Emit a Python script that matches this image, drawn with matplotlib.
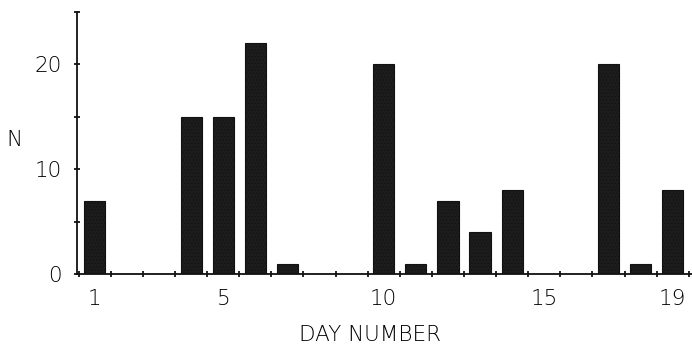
import matplotlib
matplotlib.use("Agg")
import matplotlib.pyplot as plt
import numpy as np

days = list(range(1, 20))
counts = [7, 0, 0, 15, 15, 22, 1, 0, 0, 20, 1, 7, 4, 8, 0, 0, 20, 1, 8]
x_labels = [1, 5, 10, 15, 19]
y_labels = [0, 10, 20]

plt.rcParams['font.family'] = ['DejaVu Sans']
plt.rcParams['hatch.color'] = '#8a8a8a'
plt.rcParams['hatch.linewidth'] = 0.4

fig = plt.figure(figsize=(6.92, 3.46), dpi=100)
ax = fig.add_axes([0.111, 0.208, 0.889, 0.758])

ax.bar(days, counts, width=0.66, color='#1c1c1c', edgecolor='#111111',
       linewidth=0.8, hatch='.....')

ax.set_xlim(0.44, 19.6)
ax.set_ylim(0, 25)

for s in ['top', 'right']:
    ax.spines[s].set_visible(False)
for s in ['left', 'bottom']:
    ax.spines[s].set_linewidth(1.3)
    ax.spines[s].set_color('#111111')

# x: labels at day centres, tick marks at day boundaries
ax.set_xticks(x_labels)
ax.set_xticklabels([str(v) for v in x_labels], fontsize=15.5, fontweight='light')
ax.tick_params(axis='x', which='major', length=0, pad=11)
ax.set_xticks(np.arange(0.5, 20.0, 1.0), minor=True)
ax.tick_params(axis='x', which='minor', direction='inout', length=5, width=1.2)

ax.set_yticks(y_labels)
ax.set_yticklabels([str(v) for v in y_labels], fontsize=15.5, fontweight='light')
ax.set_yticks(np.arange(0, 26, 5), minor=True)
ax.tick_params(axis='y', which='major', direction='inout', length=5, width=1.2, pad=8)
ax.tick_params(axis='y', which='minor', direction='inout', length=5, width=1.2)

fig.text(14/692, 1 - 140/346, 'N', fontsize=15.5, fontweight='light', ha='center', va='center')
fig.text(370/692, 1 - 335/346, 'DAY NUMBER', fontsize=15.5, fontweight='light', ha='center', va='center')

fig.savefig('out.png', dpi=100, facecolor='white')
